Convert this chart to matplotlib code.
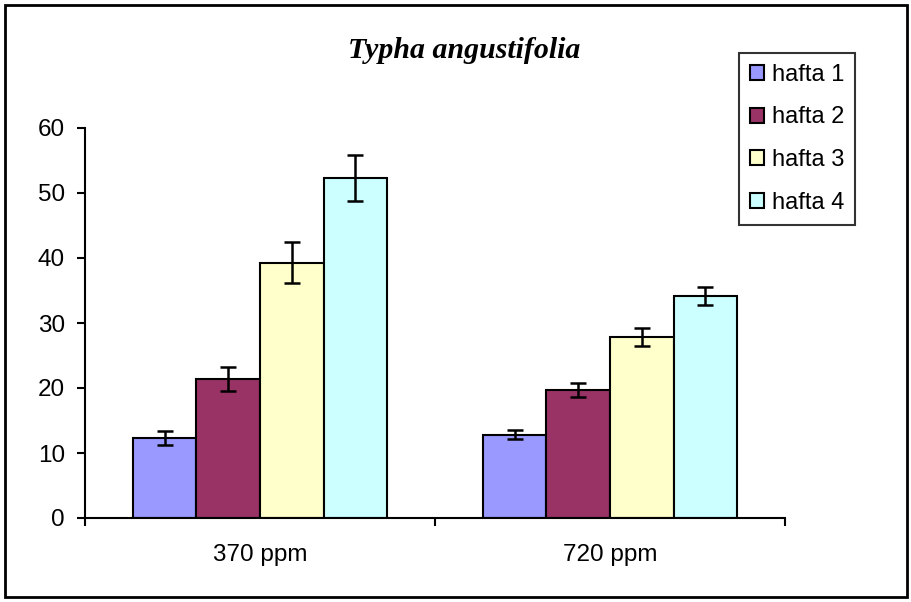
import numpy as np
import matplotlib.pyplot as plt
from matplotlib.patches import Rectangle

# === Dane ===
categories = ['370 ppm', '720 ppm']
series = ['hafta 1', 'hafta 2', 'hafta 3', 'hafta 4']
values = [
    [12.3, 12.8],   # hafta 1
    [21.4, 19.7],   # hafta 2
    [39.3, 27.8],   # hafta 3
    [52.3, 34.1],   # hafta 4
]
errors = [
    [1.05, 0.7],
    [1.9, 1.05],
    [3.1, 1.4],
    [3.5, 1.4],
]
colors = ['#9999FF', '#993366', '#FFFFCC', '#CCFFFF']
yticks = [0, 10, 20, 30, 40, 50, 60]

plt.rcParams['font.family'] = ['Liberation Sans', 'DejaVu Sans']

fig = plt.figure(figsize=(9.12, 6.02), dpi=100)
ax = fig.add_axes([85/912, 84/602, 700/912, 390/602])

x = np.arange(len(categories))
w = 1 / 5.5
for i, (name, vals, errs, col) in enumerate(zip(series, values, errors, colors)):
    ax.bar(x + (i - 1.5) * w, vals, width=w, color=col, edgecolor='black',
           linewidth=1.5, label=name, zorder=2)
    ax.errorbar(x + (i - 1.5) * w, vals, yerr=errs, fmt='none', ecolor='black',
                elinewidth=1.8, capsize=5.8, capthick=1.8, zorder=3)

ax.set_xlim(-0.5, len(categories) - 0.5)
ax.set_ylim(0, 60)
ax.set_yticks(yticks)
ax.set_xticks(x)
ax.set_xticklabels(categories)
ax.set_xticks(np.arange(len(categories) + 1) - 0.5, minor=True)
ax.tick_params(axis='x', which='major', length=0, pad=18.5, labelsize=17.5)
ax.tick_params(axis='x', which='minor', length=5.5, width=1.5, direction='out')
ax.tick_params(axis='y', length=5.5, width=1.5, direction='out', labelsize=17.5, pad=9)
for s in ['top', 'right']:
    ax.spines[s].set_visible(False)
for s in ['left', 'bottom']:
    ax.spines[s].set_linewidth(1.5)

fig.text(464/912, 1 - 50/602, 'Typha angustifolia', ha='center', va='center',
         family=['Liberation Serif'], style='italic', weight='bold', fontsize=21.5)

leg = ax.legend(loc='upper left', bbox_to_anchor=(739/912, 1 - 53/602),
                bbox_transform=fig.transFigure, frameon=True, fancybox=False,
                edgecolor='black', fontsize=17, handlelength=0.6, handleheight=0.6,
                handletextpad=0.35, labelspacing=0.88, borderpad=0.45, borderaxespad=0)
leg.get_frame().set_linewidth(1.5)

# ramka wokół całego wykresu
fig.patches.append(Rectangle((5/912, 5/602), 902/912, 592/602, transform=fig.transFigure,
                             fill=False, edgecolor='black', linewidth=2))

fig.savefig('out.png', dpi=100)
